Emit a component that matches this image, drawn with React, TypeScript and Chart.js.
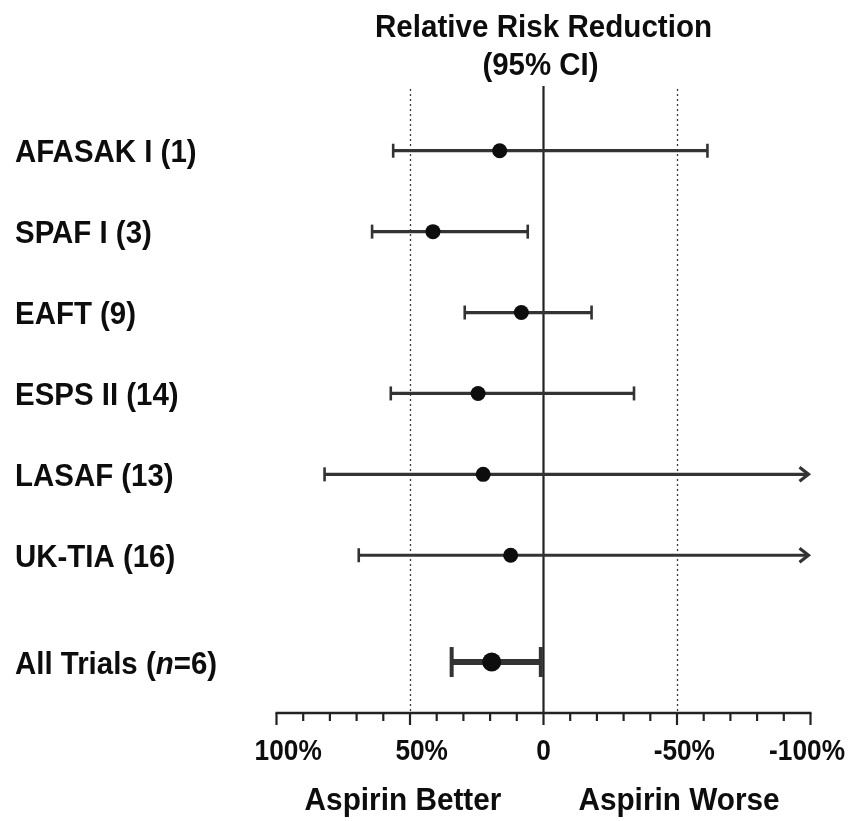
import React, { useEffect, useRef } from "react";
import { Chart, registerables } from "chart.js";

Chart.register(...registerables);

// Individual trials: relative risk reduction (%) with 95% CI
const trialNames = ["AFASAK I (1)", "SPAF I (3)", "EAFT (9)", "ESPS II (14)", "LASAF (13)", "UK-TIA (16)"];
const trialEstimate = [16.4, 41.4, 8.3, 24.5, 22.6, 12.3];
const trialCiHigh = [56.3, 64.2, 29.5, 57.2, 82.0, 69.2];
// null: the interval runs past -100% and is drawn as an arrow
const trialCiLow: (number | null)[] = [-61.4, 5.9, -18.0, -33.9, null, null];

// Pooled result
const pooledName = "All Trials";
const pooledTrials = 6;
const pooledEstimate = 19.4;
const pooledCiHigh = 34.4;
const pooledCiLow = 1.0;

// Axis
const tickValues = [100, 50, 0, -50, -100];
const tickLabels = ["100%", "50%", "0", "-50%", "-100%"];
const minorStep = 10;
const titleLines = ["Relative Risk Reduction", "(95% CI)"];
const sideLabels = ["Aspirin Better", "Aspirin Worse"];

const POOLED_ROW = trialNames.length + 0.32;
const INK = "#0d0d0d";
const BAR = "#333";
const FONT = "'Liberation Sans', Arial, Helvetica, sans-serif";

// bold text, horizontally condensed around its anchor point
function condensedText(
  ctx: CanvasRenderingContext2D,
  text: string,
  x: number,
  y: number,
  size: number,
  sx: number,
  align: CanvasTextAlign,
  italic = false
) {
  ctx.save();
  ctx.font = `${italic ? "italic " : ""}bold ${size}px ${FONT}`;
  ctx.textAlign = align;
  ctx.textBaseline = "alphabetic";
  ctx.translate(x, y);
  ctx.scale(sx, 1);
  ctx.fillText(text, 0, 0);
  const w = ctx.measureText(text).width * sx;
  ctx.restore();
  return w;
}

function textWidth(ctx: CanvasRenderingContext2D, text: string, size: number, sx: number, italic = false) {
  ctx.save();
  ctx.font = `${italic ? "italic " : ""}bold ${size}px ${FONT}`;
  const w = ctx.measureText(text).width * sx;
  ctx.restore();
  return w;
}

const forestPlugin = {
  id: "forestDecor",
  beforeDatasetsDraw(chart: any) {
    const { ctx, chartArea } = chart;
    const xs = chart.scales.x;
    const ys = chart.scales.y;
    const top = chartArea.top;
    const axisY = chartArea.bottom;

    ctx.save();
    // dotted reference lines at +/-50%
    ctx.strokeStyle = "#3a3a3a";
    ctx.lineWidth = 1.3;
    ctx.setLineDash([2, 3]);
    [50, -50].forEach((v) => {
      const x = Math.round(xs.getPixelForValue(v)) + 0.5;
      ctx.beginPath();
      ctx.moveTo(x, top + 3);
      ctx.lineTo(x, axisY);
      ctx.stroke();
    });
    ctx.setLineDash([]);

    // line of no effect
    const x0 = xs.getPixelForValue(0);
    ctx.strokeStyle = "#222";
    ctx.lineWidth = 2.2;
    ctx.beginPath();
    ctx.moveTo(x0, top);
    ctx.lineTo(x0, axisY);
    ctx.stroke();

    const drawInterval = (row: number, hi: number, lo: number | null, width: number, capH: number, capW: number) => {
      const y = ys.getPixelForValue(row);
      const xHi = xs.getPixelForValue(hi);
      const xLo = lo === null ? xs.getPixelForValue(-100) - 2 : xs.getPixelForValue(lo);
      ctx.strokeStyle = BAR;
      ctx.lineWidth = width;
      ctx.lineCap = "butt";
      ctx.beginPath();
      ctx.moveTo(xHi, y);
      ctx.lineTo(lo === null ? xLo - 2 : xLo, y);
      ctx.stroke();
      ctx.lineWidth = capW;
      ctx.beginPath();
      ctx.moveTo(xHi, y - capH / 2);
      ctx.lineTo(xHi, y + capH / 2);
      ctx.stroke();
      if (lo === null) {
        ctx.lineWidth = 3.2;
        ctx.lineJoin = "miter";
        ctx.beginPath();
        ctx.moveTo(xLo - 9, y - 7);
        ctx.lineTo(xLo, y);
        ctx.lineTo(xLo - 9, y + 7);
        ctx.stroke();
      } else {
        ctx.beginPath();
        ctx.moveTo(xLo, y - capH / 2);
        ctx.lineTo(xLo, y + capH / 2);
        ctx.stroke();
      }
    };

    trialNames.forEach((_, i) => drawInterval(i, trialCiHigh[i], trialCiLow[i], 3.2, 14, 2.6));
    drawInterval(POOLED_ROW, pooledCiHigh, pooledCiLow, 6, 30, 4);
    ctx.restore();
  },
  afterDraw(chart: any) {
    const { ctx, chartArea } = chart;
    const xs = chart.scales.x;
    const ys = chart.scales.y;
    const axisY = chartArea.bottom;
    ctx.save();

    // horizontal axis with minor and major ticks
    ctx.strokeStyle = "#222";
    ctx.lineWidth = 2.6;
    ctx.beginPath();
    ctx.moveTo(xs.getPixelForValue(100) - 1, axisY);
    ctx.lineTo(xs.getPixelForValue(-100) + 1, axisY);
    ctx.stroke();
    ctx.lineWidth = 2.2;
    for (let v = -100; v <= 100; v += minorStep) {
      const x = xs.getPixelForValue(v);
      const len = tickValues.includes(v) ? 12 : 8;
      ctx.beginPath();
      ctx.moveTo(x, axisY);
      ctx.lineTo(x, axisY + len);
      ctx.stroke();
    }

    ctx.fillStyle = INK;

    // tick labels: digits centred on the tick, sign and % hanging outside,
    // pulled back inside the canvas where they would overflow
    const tickSize = 30;
    const tickSx = 0.875;
    const tickY = axisY + 47;
    const rightLimit = chart.width - 8;
    tickValues.forEach((v, i) => {
      const m = /^(-?)(\d+)(%?)$/.exec(tickLabels[i]);
      const pre = m ? m[1] : "";
      const core = m ? m[2] : tickLabels[i];
      const suf = m ? m[3] : "";
      const w = textWidth(ctx, core, tickSize, tickSx);
      const sw = suf ? textWidth(ctx, suf, tickSize, tickSx) : 0;
      let x = xs.getPixelForValue(v);
      if (x + w / 2 + sw > rightLimit) x = rightLimit - sw - w / 2;
      condensedText(ctx, core, x, tickY, tickSize, tickSx, "center");
      if (pre) condensedText(ctx, pre, x - w / 2, tickY, tickSize, tickSx, "right");
      if (suf) condensedText(ctx, suf, x + w / 2, tickY, tickSize, tickSx, "left");
    });

    // side captions
    condensedText(ctx, sideLabels[0], xs.getPixelForValue(50) - 7, axisY + 97, 31, 0.96, "center");
    condensedText(ctx, sideLabels[1], xs.getPixelForValue(-50) + 2, axisY + 97, 31, 0.96, "center");

    // title
    const x0 = xs.getPixelForValue(0);
    condensedText(ctx, titleLines[0], x0, 36.5, 32, 0.925, "center");
    condensedText(ctx, titleLines[1], x0 - 3, 75, 32, 0.92, "center");

    // row labels
    const labelSize = 32;
    const labelSx = 0.92;
    const labelX = 15;
    trialNames.forEach((name, i) => {
      condensedText(ctx, name, labelX, ys.getPixelForValue(i) + 11.5, labelSize, labelSx, "left");
    });
    const py = ys.getPixelForValue(POOLED_ROW) + 11.5;
    let cx = labelX;
    cx += condensedText(ctx, `${pooledName} (`, cx, py, labelSize, labelSx, "left");
    cx += condensedText(ctx, "n", cx, py, labelSize, labelSx, "left", true);
    condensedText(ctx, `=${pooledTrials})`, cx, py, labelSize, labelSx, "left");

    ctx.restore();
  },
};

export default function App() {
  const canvasRef = useRef<HTMLCanvasElement | null>(null);

  useEffect(() => {
    const canvas = canvasRef.current;
    if (!canvas) return;
    const points = trialEstimate.map((v, i) => ({ x: v, y: i }));
    points.push({ x: pooledEstimate, y: POOLED_ROW });

    const chart = new Chart(canvas, {
      type: "scatter",
      data: {
        datasets: [
          {
            data: points,
            pointRadius: (c: any) => (c.dataIndex === trialNames.length ? 9.5 : 7.5),
            pointHoverRadius: (c: any) => (c.dataIndex === trialNames.length ? 9.5 : 7.5),
            backgroundColor: INK,
            borderWidth: 0,
          },
        ],
      },
      options: {
        responsive: false,
        animation: false,
        events: [],
        layout: { padding: { left: 276.5, right: 42.5, top: 86, bottom: 108 } },
        scales: {
          x: { type: "linear", min: -100, max: 100, reverse: true, display: false },
          y: { type: "linear", min: -0.8, max: 6.95, reverse: true, display: false },
        },
        plugins: { legend: { display: false }, tooltip: { enabled: false } },
      },
      plugins: [forestPlugin],
    });
    return () => chart.destroy();
  }, []);

  return (
    <div style={{ position: "fixed", left: 0, top: 0, width: 853, height: 821, background: "#fff" }}>
      <canvas ref={canvasRef} width={853} height={821} style={{ display: "block" }} />
    </div>
  );
}
